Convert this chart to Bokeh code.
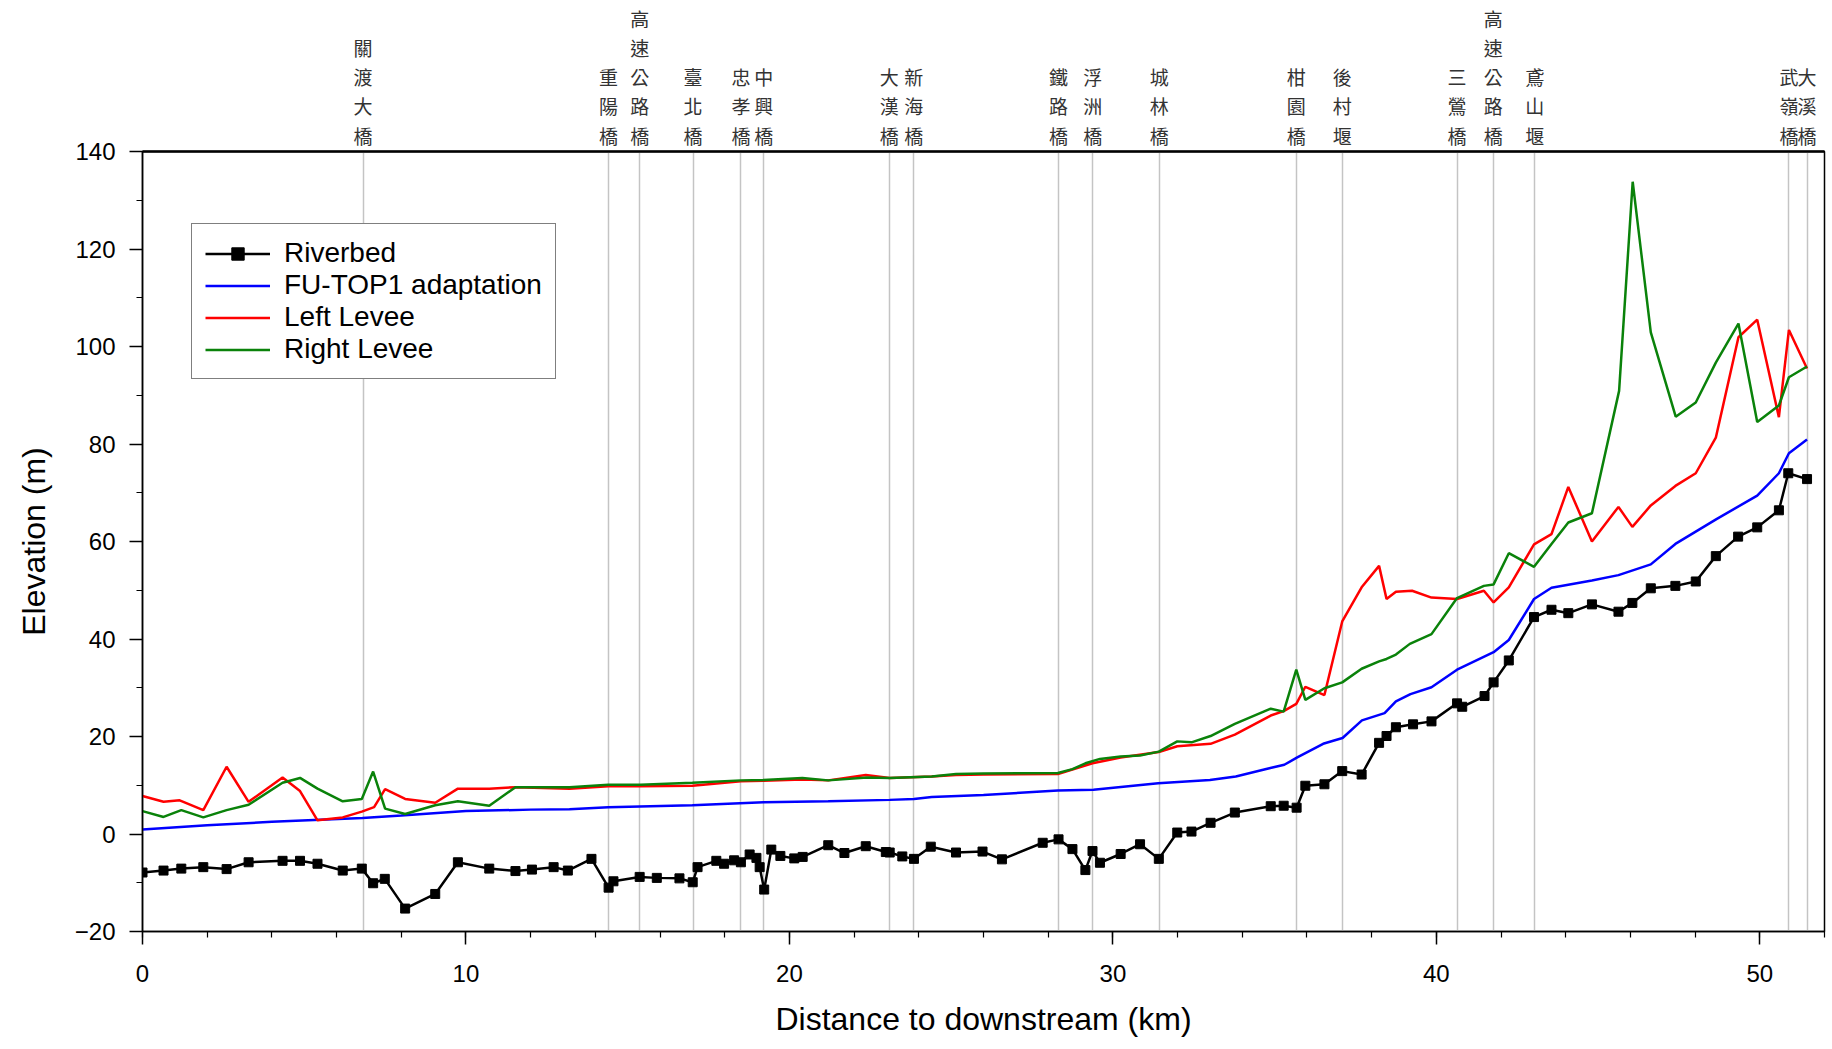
from bokeh.plotting import figure
from bokeh.models import Range1d, LinearAxis, FixedTicker, Grid, Legend, LegendItem
from bokeh.embed import file_html
from bokeh.resources import INLINE

# ---------------- data ----------------
km_bed = [0, 0.65, 1.2, 1.88, 2.6, 3.28, 4.33, 4.87, 5.41, 6.19, 6.78, 7.13, 7.49, 8.12, 9.05,
          9.75, 10.72, 11.53, 12.04, 12.71, 13.15, 13.88, 14.41, 14.56, 15.37, 15.9, 16.6, 17.01,
          17.16, 17.74, 17.98, 18.29, 18.5, 18.77, 18.98, 19.08, 19.22, 19.44, 19.72, 20.15, 20.41,
          21.2, 21.7, 22.36, 22.98, 23.1, 23.49, 23.85, 24.37, 25.15, 25.97, 26.57, 27.83, 28.32,
          28.75, 29.15, 29.37, 29.6, 30.24, 30.84, 31.42, 31.99, 32.43, 33.02, 33.77, 34.88, 35.28,
          35.68, 35.95, 36.54, 37.09, 37.69, 38.23, 38.46, 38.75, 39.28, 39.85, 40.64, 40.8, 41.49,
          41.77, 42.24, 43.02, 43.56, 44.08, 44.81, 45.63, 46.06, 46.63, 47.39, 48.02, 48.64, 49.33,
          49.92, 50.59, 50.88, 51.46]
bed = [-7.9, -7.5, -7.1, -6.8, -7.2, -5.8, -5.5, -5.5, -6.1, -7.5, -7.1, -10.1, -9.2, -15.3, -12.3,
       -5.8, -7.1, -7.6, -7.3, -6.8, -7.5, -5.1, -11.0, -9.7, -8.8, -9.0, -9.1, -9.9,
       -6.8, -5.5, -6.1, -5.4, -5.8, -4.2, -4.9, -6.8, -11.4, -3.2, -4.5, -5.0, -4.7,
       -2.3, -3.9, -2.5, -3.7, -3.8, -4.6, -5.1, -2.6, -3.8, -3.6, -5.2, -1.8, -1.1,
       -3.1, -7.4, -3.5, -5.9, -4.1, -2.1, -5.1, 0.3, 0.5, 2.3, 4.4, 5.7, 5.8,
       5.4, 9.9, 10.2, 12.9, 12.2, 18.7, 20.1, 21.9, 22.5, 23.1, 26.8, 26.1, 28.3,
       31.1, 35.6, 44.5, 46.0, 45.3, 47.1, 45.6, 47.4, 50.4, 50.9, 51.8, 57.0, 61.0,
       62.9, 66.4, 74.0, 72.8]

km_fu = [0, 2, 4, 6.8, 8, 10, 12, 13.2, 14.4, 17.0, 19.2, 21.2, 23.1, 23.85, 24.4, 26.0, 28.3,
         29.4, 31.4, 33.0, 33.8, 34.9, 35.3, 35.7, 36.5, 37.1, 37.7, 38.4, 38.75, 39.2, 39.85,
         40.64, 41.77, 42.24, 43.02, 43.56, 44.81, 45.63, 46.63, 47.39, 48.66, 49.92, 50.59,
         50.9, 51.46]
fu_top1 = [0.9, 1.8, 2.5, 3.3, 3.8, 4.7, 5.0, 5.1, 5.5, 5.9, 6.5, 6.7, 7.0, 7.2, 7.6, 8.0, 8.9,
           9.1, 10.4, 11.1, 11.8, 13.6, 14.2, 15.7, 18.5, 19.7, 23.3, 24.8, 27.2, 28.7, 30.1,
           33.7, 37.3, 39.8, 48.2, 50.5, 52.0, 53.1, 55.3, 59.5, 64.6, 69.4, 74.0,
           78.1, 80.9]

km_left = [0, 0.65, 1.15, 1.88, 2.6, 3.28, 4.33, 4.87, 5.41, 6.19, 6.78, 7.16, 7.5, 8.12, 9.05,
           9.75, 10.72, 11.53, 13.2, 14.4, 15.4, 17.0, 18.5, 19.2, 20.4, 21.2, 22.36, 23.1, 24.4,
           25.15, 26.0, 28.3, 29.37, 30.24, 31.42, 31.99, 33.02, 33.77, 34.88, 35.28, 35.67,
           35.95, 36.54, 37.09, 37.69, 38.23, 38.46, 38.75, 39.25, 39.85, 40.64, 41.47, 41.77,
           42.24, 43.02, 43.56, 44.08, 44.81, 45.63, 46.06, 46.63, 47.39, 48.02, 48.64, 49.34,
           49.92, 50.59, 50.9, 51.46]
left_levee = [7.8, 6.6, 6.9, 4.9, 13.8, 6.6, 11.6, 8.8, 2.8, 3.4, 4.6, 5.5, 9.2, 7.2, 6.4,
              9.3, 9.3, 9.6, 9.3, 9.8, 9.8, 9.9, 10.8, 10.9, 11.2, 11.0, 12.1, 11.5, 11.8,
              12.1, 12.2, 12.3, 14.5, 15.7, 16.8, 18.0, 18.5, 20.4, 24.3, 25.2, 26.7,
              30.2, 28.5, 43.6, 50.6, 55.0, 48.2, 49.7, 49.9, 48.5, 48.2, 49.9, 47.5,
              50.6, 59.4, 61.5, 71.2, 60.0, 67.1, 63.0, 67.4, 71.4, 74.0, 81.3, 101.9,
              105.5, 85.5, 103.4, 95.5]

km_right = [0, 0.65, 1.2, 1.88, 2.6, 3.28, 4.33, 4.87, 5.41, 6.19, 6.78, 7.13, 7.5, 8.12, 9.05,
            9.75, 10.72, 11.53, 13.2, 14.4, 15.4, 17.0, 18.5, 19.2, 20.4, 21.2, 22.4, 23.1, 24.4,
            25.15, 26.0, 28.3, 28.75, 29.15, 29.6, 30.24, 30.84, 31.42, 31.99, 32.43, 33.02,
            33.77, 34.88, 35.28, 35.67, 35.95, 36.54, 37.09, 37.69, 38.23, 38.46, 38.75, 39.18,
            39.85, 40.64, 41.47, 41.77, 42.24, 43.02, 43.56, 44.08, 44.81, 45.65, 46.07, 46.63,
            47.4, 48.02, 48.64, 49.34, 49.92, 50.59, 50.9, 51.46]
right_levee = [4.7, 3.5, 4.9, 3.4, 4.9, 6.0, 10.5, 11.5, 9.3, 6.7, 7.2, 12.8, 5.2, 4.1, 5.9,
               6.7, 5.8, 9.6, 9.6, 10.1, 10.1, 10.5, 11.0, 11.1, 11.5, 11.0, 11.6, 11.5, 11.8,
               12.3, 12.4, 12.5, 13.3, 14.5, 15.4, 15.9, 16.1, 16.9, 19.0, 18.8, 20.1,
               22.6, 25.7, 25.1, 33.7, 27.5, 29.9, 31.1, 33.9, 35.4, 35.9, 36.8, 39.0,
               41.0, 48.4, 50.9, 51.2, 57.6, 54.8, 59.5, 63.9, 65.8, 90.9, 133.8, 102.9,
               85.6, 88.5, 96.7, 104.7, 84.5, 87.9, 93.7, 95.9]

bridge_km = [6.82, 14.41, 15.37, 17.02, 18.5, 19.21, 23.09, 23.84, 28.32, 29.38, 31.43,
             35.67, 37.09, 40.64, 41.76, 43.04, 50.9, 51.46]
bridge_names = ["關渡大橋", "重陽橋", "高速公路橋", "臺北橋", "忠孝橋", "中興橋", "大漢橋", "新海橋",
                "鐵路橋", "浮洲橋", "城林橋", "柑園橋", "後村堰", "三鶯橋", "高速公路橋", "鳶山堰",
                "武嶺橋", "大溪橋"]

x_ticks = [0, 10, 20, 30, 40, 50]
x_minor = [0, 2, 4, 6, 8, 10, 12, 14, 16, 18, 20, 22, 24, 26, 28, 30, 32, 34, 36, 38, 40, 42,
           44, 46, 48, 50, 52]
y_ticks = [-20, 0, 20, 40, 60, 80, 100, 120, 140]
y_minor = [-20, -10, 0, 10, 20, 30, 40, 50, 60, 70, 80, 90, 100, 110, 120, 130, 140]

# ---------------- figure ----------------
FONT = "Liberation Sans"
p = figure(width=1832, height=1049, output_backend="svg", toolbar_location=None,
           x_range=Range1d(0, 52), y_range=Range1d(-20, 140),
           min_border_left=142, min_border_right=8, min_border_top=151, min_border_bottom=118,
           background_fill_color="white", border_fill_color="white")
p.grid.grid_line_color = None
p.outline_line_color = "black"
p.outline_line_width = 1.5

xa = p.xaxis[0]
xa.ticker = FixedTicker(ticks=x_ticks, minor_ticks=x_minor)
xa.axis_label = "Distance to downstream (km)"
ya = p.yaxis[0]
ya.ticker = FixedTicker(ticks=y_ticks, minor_ticks=y_minor)
ya.axis_label = "Elevation (m)"
for ax in (xa, ya):
    ax.axis_line_color = "black"
    ax.axis_line_width = 1.5
    ax.major_tick_line_color = "black"
    ax.minor_tick_line_color = "black"
    ax.major_tick_line_width = 1.5
    ax.minor_tick_line_width = 1.2
    ax.major_tick_out = 13
    ax.major_tick_in = 0
    ax.minor_tick_out = 6
    ax.minor_tick_in = 0
    ax.major_label_text_font = FONT
    ax.major_label_text_font_size = "24px"
    ax.major_label_text_color = "black"
    ax.axis_label_text_font = FONT
    ax.axis_label_text_font_size = "32px"
    ax.axis_label_text_font_style = "normal"
    ax.axis_label_text_color = "black"
xa.major_label_standoff = 20
xa.axis_label_standoff = 16
ya.major_label_standoff = 14
ya.axis_label_standoff = 20

# top axis with bridge names
top = LinearAxis(ticker=FixedTicker(ticks=bridge_km, minor_ticks=[]),
                 major_label_overrides={k: "\n".join(n) for k, n in zip(bridge_km, bridge_names)})
top.axis_line_color = "black"
top.axis_line_width = 2.5
top.major_tick_line_color = None
top.minor_tick_line_color = None
top.major_label_standoff = -3
top.major_label_text_font = "Noto Sans CJK TC"
top.major_label_text_font_size = "19px"
top.major_label_text_line_height = 1.08
top.major_label_text_color = "#333333"
p.add_layout(top, "above")

p.add_layout(Grid(dimension=0, ticker=top.ticker, grid_line_color="#c4c4c4", grid_line_width=1.5))

# series
r_fu = p.line(km_fu, fu_top1, line_color="#0000ff", line_width=2.5)
r_left = p.line(km_left, left_levee, line_color="#ff0000", line_width=2.5)
r_right = p.line(km_right, right_levee, line_color="#0a820a", line_width=2.5)
r_bed_l = p.line(km_bed, bed, line_color="black", line_width=2.5)
r_bed_p = p.scatter(km_bed, bed, marker="square", size=9, fill_color="black", line_color="black")

legend = Legend(items=[
    LegendItem(label="Riverbed", renderers=[r_bed_l, r_bed_p]),
    LegendItem(label="FU-TOP1 adaptation", renderers=[r_fu]),
    LegendItem(label="Left Levee", renderers=[r_left]),
    LegendItem(label="Right Levee", renderers=[r_right]),
], location=(49, 552))
legend.border_line_color = "black"
legend.border_line_width = 1.5
legend.padding = 13
legend.spacing = 0
legend.margin = 0
legend.glyph_width = 65
legend.glyph_height = 31
legend.label_height = 31
legend.label_standoff = 14
legend.label_text_font = FONT
legend.label_text_font_size = "28px"
legend.label_text_color = "black"
legend.background_fill_alpha = 1
p.add_layout(legend)

open("out.html", "w").write(file_html(p, INLINE))
